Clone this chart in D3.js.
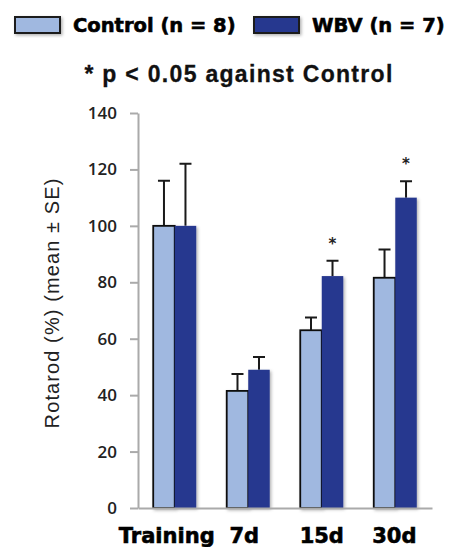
<!DOCTYPE html>
<html><head><meta charset="utf-8">
<script src="https://cdn.jsdelivr.net/npm/d3@7"></script>
<style>html,body{margin:0;padding:0;background:#fff;}svg{display:block;}</style>
</head><body>
<script>
const categories = ["Training", "7d", "15d", "30d"];
const seriesNames = ["Control (n = 8)", "WBV (n = 7)"];
const controlMean = [100, 41.5, 63, 81.6];
const controlSE   = [16, 6, 4.5, 10];
const wbvMean     = [100, 49, 82.2, 110];
const wbvSE       = [22, 4.5, 5.4, 5.8];
const significant = [false, false, true, true];
const yTicks = [0, 20, 40, 60, 80, 100, 120, 140];

const W = 449, H = 547;
const colors = ["#a0b8e0", "#28388f"];
const svg = d3.select("body").append("svg").attr("width", W).attr("height", H);

const defs = svg.append("defs");
const f = defs.append("filter").attr("id", "sh").attr("x", "-20%").attr("y", "-20%").attr("width", "150%").attr("height", "150%");
f.append("feDropShadow").attr("dx", 1.5).attr("dy", 1.5).attr("stdDeviation", 1.5).attr("flood-color", "#000").attr("flood-opacity", 0.3);

const y = d3.scaleLinear().domain([0, 140]).range([508, 113]);
const x = d3.scaleBand().domain(categories).range([138, 432]).paddingInner(0.415).paddingOuter(0.207);
const xs = d3.scaleBand().domain([0, 1]).range([0, x.bandwidth()]);

// Legend
const legendX = [15, 254];
const legendTextX = [73, 312];
seriesNames.forEach((s, i) => {
  svg.append("rect").attr("x", legendX[i]).attr("y", 17).attr("width", 45).attr("height", 16)
    .attr("fill", colors[i]).attr("stroke", "#1a1a1a").attr("stroke-width", 2).attr("filter", "url(#sh)");
  svg.append("text").attr("x", legendTextX[i]).attr("y", 31.5).text(s)
    .attr("font-family", "DejaVu Sans").attr("font-weight", "bold").attr("font-size", 19.5)
    .attr("fill", "#000").attr("stroke", "#000").attr("stroke-width", 0.6);
});

svg.append("text").attr("x", 239).attr("y", 81.5).attr("text-anchor", "middle")
  .attr("font-family", "Liberation Sans, Arial").attr("font-weight", "bold").attr("font-size", 23)
  .attr("letter-spacing", 1.3).attr("fill", "#111").attr("stroke", "#111").attr("stroke-width", 0.3)
  .text("* p < 0.05 against Control");

// Y axis
const yAxis = svg.append("g").attr("transform", "translate(138,0)")
  .call(d3.axisLeft(y).tickValues(yTicks).tickSize(8).tickPadding(13).tickSizeOuter(0));
yAxis.select(".domain").attr("stroke", "#aaa").attr("stroke-width", 2);
yAxis.selectAll(".tick line").attr("stroke", "#aaa").attr("stroke-width", 2);
yAxis.selectAll(".tick text").attr("font-family", "Open Sans").attr("font-weight", 600)
  .attr("font-size", 17).attr("fill", "#222");

svg.append("text").attr("transform", "translate(59,303) rotate(-90)").attr("text-anchor", "middle")
  .attr("font-family", "Liberation Sans, Arial").attr("font-size", 20).attr("letter-spacing", 1.1)
  .attr("fill", "#222").text("Rotarod (%) (mean ± SE)");

// Bars
const data = categories.map((c, i) => ({c, vals: [
  {k: 0, m: controlMean[i], se: controlSE[i]},
  {k: 1, m: wbvMean[i], se: wbvSE[i]}], sig: significant[i]}));

const g = svg.selectAll("g.grp").data(data).join("g").attr("class", "grp")
  .attr("transform", d => `translate(${x(d.c)},0)`);

g.selectAll("path.err").data(d => d.vals).join("path").attr("class", "err")
  .attr("d", v => {
    const cx = xs(v.k) + xs.bandwidth() / 2;
    const t = y(v.m + v.se);
    return `M${cx},${y(v.m)}V${t}M${cx - 6},${t}H${cx + 6}`;
  })
  .attr("stroke", "#1a1a1a").attr("stroke-width", 2).attr("fill", "none");

g.selectAll("rect.bar").data(d => d.vals).join("rect").attr("class", "bar")
  .attr("x", v => xs(v.k)).attr("width", xs.bandwidth())
  .attr("y", v => y(v.m)).attr("height", v => y(0) - y(v.m))
  .attr("fill", v => colors[v.k])
  .attr("stroke", v => v.k === 0 ? "#111" : "none").attr("stroke-width", 1.8)
  .attr("filter", "url(#sh)");

g.filter(d => d.sig).append("text")
  .attr("x", xs(1) + xs.bandwidth() / 2)
  .attr("y", d => y(d.vals[1].m + d.vals[1].se) - 12)
  .attr("text-anchor", "middle").attr("font-family", "DejaVu Sans").attr("font-weight", "bold")
  .attr("font-size", 15).attr("fill", "#222").text("*");

// X axis
const xAxis = svg.append("g").attr("transform", "translate(0,508)")
  .call(d3.axisBottom(x).tickSize(0).tickPadding(20).tickSizeOuter(0));
xAxis.select(".domain").attr("stroke", "#aaa").attr("stroke-width", 2);
const labelShift = [-8, -4, 0, -1];
xAxis.selectAll(".tick text").attr("font-family", "DejaVu Sans").attr("font-weight", "bold")
  .attr("font-size", 21).attr("fill", "#000").attr("stroke", "#000").attr("stroke-width", 0.6)
  .attr("dx", (d, i) => labelShift[i]);
</script>
</body></html>
